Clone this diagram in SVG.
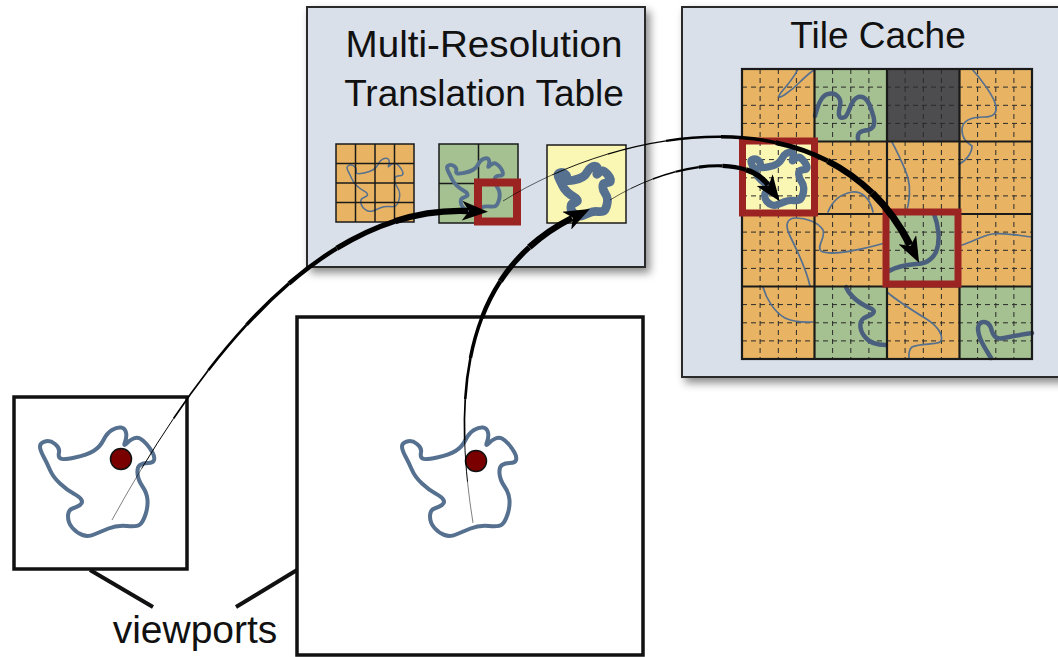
<svg xmlns="http://www.w3.org/2000/svg" xmlns:xlink="http://www.w3.org/1999/xlink" width="1058" height="657" viewBox="0 0 1058 657">
  <style>
    .panel { fill: #d9e0ea; stroke: #2b2b2b; stroke-width: 2; }
    .title { font-family: "Liberation Sans", Arial, sans-serif; font-size: 37px; fill: #111; text-anchor: middle; }
    .label { font-family: "Liberation Sans", Arial, sans-serif; font-size: 39px; fill: #111; text-anchor: middle; }
    .orange { fill: #e8b464; }
    .green { fill: #a5c091; }
    .yellow { fill: #faf6b4; }
    .dark { fill: #4d4d4f; }
    .gridline { stroke: #1a1a1a; stroke-width: 1.5; fill: none; }
    .tileline { stroke: #1a1a1a; stroke-width: 2.2; fill: none; }
    .dash { stroke: #2a2a2a; stroke-width: 1; stroke-dasharray: 5 4; fill: none; }
    .thin { stroke: #56708f; stroke-width: 1.7; fill: none; stroke-linecap: round; }
    .thick { stroke: #4a5f7d; stroke-width: 4.5; fill: none; stroke-linecap: round; stroke-linejoin: round; }
    .hl { fill: none; stroke: #9b2422; }
    .viewport { fill: #fff; stroke: #111; stroke-width: 3.5; }
    .leader { stroke: #111; stroke-width: 4; }
    .dot { fill: #7a0000; stroke: #111; stroke-width: 1.5; }
    .blobline { fill: none; stroke: #56708f; stroke-linejoin: round; }
    .conn { fill: none; stroke: #000; stroke-linecap: butt; }
  </style>
  <defs>
    <filter id="shadow" x="-10%" y="-10%" width="130%" height="130%">
      <feDropShadow dx="4" dy="5" stdDeviation="4" flood-color="#000" flood-opacity="0.45"/>
    </filter>
    <marker id="head" markerUnits="userSpaceOnUse" viewBox="0 0 26 20" markerWidth="26" markerHeight="20" refX="6" refY="10" orient="auto">
      <path d="M0,0 L26,10 L0,20 L7,10 Z" fill="#000"/>
    </marker>
    <!-- outline of the region of interest, local coordinates -->
    <path id="blob" d="M0,19.5 Q0,16 5,14.5 Q10,13 15,17 Q20,21 19,25.5 Q18,30 20.5,31.5 Q23,33 35,30.5 Q47,28 53.5,24 Q60,20 63.5,13 Q67,6 72,3 Q77,0 81,0.5 Q85,1 86,5.5 Q87,10 85,15 Q83,20 86.5,16.5 Q90,13 93.5,11.5 Q97,10 100,11.5 Q103,13 106.5,17 Q110,21 112.5,25.5 Q115,30 114,33 Q113,36 108,36 Q103,36 100,38 Q97,40 97.5,46.5 Q98,53 102.5,59.5 Q107,66 107.5,73 Q108,80 105.5,87.5 Q103,95 100,97.5 Q97,100 87,99 Q77,98 68.5,101.5 Q60,105 54,107.5 Q48,110 42.5,108 Q37,106 32.5,101 Q28,96 28,89.5 Q28,83 32.5,81.5 Q37,80 40,78 Q43,76 41.5,73 Q40,70 33.5,66.5 Q27,63 20,56.5 Q13,50 10,43 Q7,36 3.5,29.5 Q0,23 0,19.5 Z"/>
    <!-- connector centre lines (tapered by layered dash segments) -->
    <path id="c1" pathLength="100" d="M112,520 C200,360 320,205 468,211"/>
    <path id="c2" pathLength="100" d="M473,523 C450,380 470,270 572,218"/>
    <path id="c3" pathLength="100" d="M503,201 C620,128 830,88 910,245"/>
    <path id="c4" pathLength="100" d="M610,200 C670,163 745,153 768,185"/>
  </defs>

  <!-- Multi-Resolution Translation Table -->
  <g id="translation-table">
    <rect class="panel" x="307" y="7" width="338" height="260" filter="url(#shadow)"/>
    <text class="title" x="484" y="57" textLength="277" lengthAdjust="spacingAndGlyphs">Multi-Resolution</text>
    <text class="title" x="484" y="106">Translation Table</text>
    <g id="level-fine">
      <rect class="orange" x="336" y="144" width="78" height="78"/>
      <use href="#blob" class="blobline" transform="translate(347,158) scale(0.49)" stroke-width="3.1"/>
      <path class="gridline" d="M355.5,144V222M375,144V222M394.5,144V222M336,163.5H414M336,183H414M336,202.5H414"/>
      <rect class="gridline" x="336" y="144" width="78" height="78"/>
    </g>
    <g id="level-mid">
      <rect class="green" x="439" y="144" width="79" height="79"/>
      <path class="gridline" d="M478.5,144V223M439,183.5H518"/>
      <use href="#blob" class="blobline" transform="translate(447,158) scale(0.49)" stroke-width="8" stroke="#4f6683"/>
      <rect class="gridline" x="439" y="144" width="79" height="79"/>
      <rect class="hl" x="478" y="182.5" width="39" height="39" stroke-width="8"/>
    </g>
    <g id="level-coarse">
      <rect class="yellow" x="547" y="145" width="79" height="78"/>
      <use href="#blob" class="blobline" transform="translate(558,166) scale(0.46)" stroke-width="19" stroke="#4a5f7d"/>
      <rect class="gridline" x="547" y="145" width="79" height="78"/>
    </g>
  </g>

  <!-- Tile Cache -->
  <g id="tile-cache">
    <rect class="panel" x="682" y="7" width="400" height="370" filter="url(#shadow)"/>
    <text class="title" x="878" y="48">Tile Cache</text>
    <g id="tiles">
      <rect class="orange" x="742" y="69" width="290" height="290"/>
      <rect class="green" x="814.5" y="69" width="72.5" height="72.5"/>
      <rect class="dark" x="887" y="69" width="72.5" height="72.5"/>
      <rect class="yellow" x="742" y="141.5" width="72.5" height="72.5"/>
      <rect class="green" x="887" y="214" width="72.5" height="72.5"/>
      <rect class="green" x="814.5" y="286.5" width="72.5" height="72.5"/>
      <rect class="green" x="959.5" y="286.5" width="72.5" height="72.5"/>
    </g>
    <path class="dash" d="M760.1,69V359M778.3,69V359M796.4,69V359M832.6,69V359M850.8,69V359M868.9,69V359M905.1,69V359M923.3,69V359M941.4,69V359M977.6,69V359M995.8,69V359M1013.9,69V359
      M742,87.1H1032M742,105.3H1032M742,123.4H1032M742,159.6H1032M742,177.8H1032M742,195.9H1032M742,232.1H1032M742,250.3H1032M742,268.4H1032M742,304.6H1032M742,322.8H1032M742,340.9H1032"/>
    <g id="tile-content">
      <path class="thin" d="M798,69 C792,82 780,92 779,96 C778,100 790,92 800,82 C806,76 811,72 814,70"/>
      <path class="thick" d="M815,116 C818,104 822,95 828,94 C836,92 842,98 840,106 C838,114 838,120 845,117 C850,113 850,100 858,97 C866,95 870,104 872,112 C875,120 876,128 868,130 C860,131 857,133 858,139"/>
      <path class="thin" d="M972,69 C980,78 994,96 996,106 C997,113 994,117 984,117 C970,117 962,121 962,130 C962,138 966,142 972,146 C972,153 966,161 959,164"/>
      <path class="thin" d="M892,142 C896,150 904,165 908,178 C911,190 910,200 906,214"/>
      <path class="thin" d="M828,212 C832,202 840,194 852,192 C862,191 870,198 873,212"/>
      <use href="#blob" class="blobline" transform="translate(751,152) scale(0.49)" stroke-width="15" stroke="#4a5f7d"/>
      <path class="thin" d="M810,286 C806,268 796,248 790,236 C785,226 786,218 796,218 C806,218 818,222 823,230 C826,238 816,246 821,251 C830,256 860,250 885,243"/>
      <path class="thin" d="M763,287 C766,298 774,312 785,318 C795,323 805,322 813,322"/>
      <path class="thick" d="M846,287 C850,296 860,304 872,309 C878,313 868,316 864,318 C858,322 860,332 866,338 C870,343 878,345 886,345"/>
      <path class="thin" d="M887,292 C896,300 915,312 928,320 C940,328 944,338 940,342 C935,345 920,343 912,347 C908,350 909,355 909,359"/>
      <path class="thin" d="M962,245 C972,242 982,236 992,234 C1005,232 1020,236 1032,237"/>
      <path class="thick" d="M991,358 C985,348 978,338 978,328 C979,320 988,320 991,328 C993,336 996,340 1004,338 C1014,336 1024,334 1032,333"/>
      <path class="thick" d="M934,214 C938,224 941,240 936,252 C932,260 926,264 916,264 C904,265 896,267 889,271"/>
    </g>
    <path class="tileline" d="M814.5,69V359M887,69V359M959.5,69V359M742,141.5H1032M742,214H1032M742,286.5H1032"/>
    <rect class="tileline" x="742" y="69" width="290" height="290"/>
    <rect class="hl" x="742.5" y="141" width="72" height="72" stroke-width="7"/>
    <rect class="hl" x="886" y="212" width="72" height="72" stroke-width="7"/>
  </g>

  <!-- small viewport -->
  <g id="viewport-small">
    <rect class="viewport" x="14" y="397" width="173" height="172"/>
    <use href="#blob" class="blobline" transform="translate(40,427)" stroke-width="4"/>
    <circle class="dot" cx="121" cy="459" r="10.5"/>
  </g>

  <!-- large viewport -->
  <g id="viewport-large">
    <rect class="viewport" x="297" y="317" width="346" height="338"/>
    <use href="#blob" class="blobline" transform="translate(402,427)" stroke-width="4"/>
    <circle class="dot" cx="476" cy="461" r="10.5"/>
  </g>

  <!-- caption -->
  <g id="caption">
    <line class="leader" x1="90" y1="570" x2="153" y2="607"/>
    <line class="leader" x1="297" y1="570" x2="236" y2="607"/>
    <text class="label" x="195" y="643">viewports</text>
  </g>

  <!-- connectors -->
  <g id="connectors">
    <g id="conn-small-to-mid">
      <use href="#c1" class="conn" stroke-width="0.5" stroke-dasharray="12 200"/>
      <use href="#c1" class="conn" stroke-width="1" stroke-dasharray="0 12 12 200"/>
      <use href="#c1" class="conn" stroke-width="1.7" stroke-dasharray="0 24 12 200"/>
      <use href="#c1" class="conn" stroke-width="2.6" stroke-dasharray="0 36 12 200"/>
      <use href="#c1" class="conn" stroke-width="3.5" stroke-dasharray="0 48 12 200"/>
      <use href="#c1" class="conn" stroke-width="4.4" stroke-dasharray="0 60 12 200"/>
      <use href="#c1" class="conn" stroke-width="5.3" stroke-dasharray="0 72 13 200"/>
      <use href="#c1" class="conn" stroke-width="6.3" stroke-dasharray="0 85 15 200" marker-end="url(#head)"/>
    </g>
    <g id="conn-large-to-coarse">
      <use href="#c2" class="conn" stroke-width="0.5" stroke-dasharray="12 200"/>
      <use href="#c2" class="conn" stroke-width="1" stroke-dasharray="0 12 12 200"/>
      <use href="#c2" class="conn" stroke-width="1.7" stroke-dasharray="0 24 12 200"/>
      <use href="#c2" class="conn" stroke-width="2.6" stroke-dasharray="0 36 12 200"/>
      <use href="#c2" class="conn" stroke-width="3.5" stroke-dasharray="0 48 12 200"/>
      <use href="#c2" class="conn" stroke-width="4.4" stroke-dasharray="0 60 12 200"/>
      <use href="#c2" class="conn" stroke-width="5.3" stroke-dasharray="0 72 13 200"/>
      <use href="#c2" class="conn" stroke-width="6.3" stroke-dasharray="0 85 15 200" marker-end="url(#head)"/>
    </g>
    <g id="conn-mid-to-cache">
      <use href="#c3" class="conn" stroke-width="0.6" stroke-dasharray="12 200"/>
      <use href="#c3" class="conn" stroke-width="0.9" stroke-dasharray="0 12 13 200"/>
      <use href="#c3" class="conn" stroke-width="1.4" stroke-dasharray="0 25 13 200"/>
      <use href="#c3" class="conn" stroke-width="2.3" stroke-dasharray="0 38 12 200"/>
      <use href="#c3" class="conn" stroke-width="3.4" stroke-dasharray="0 50 12 200"/>
      <use href="#c3" class="conn" stroke-width="4.8" stroke-dasharray="0 62 12 200"/>
      <use href="#c3" class="conn" stroke-width="6.2" stroke-dasharray="0 74 12 200"/>
      <use href="#c3" class="conn" stroke-width="7.2" stroke-dasharray="0 86 14 200" marker-end="url(#head)"/>
    </g>
    <g id="conn-coarse-to-cache">
      <use href="#c4" class="conn" stroke-width="0.6" stroke-dasharray="14 200"/>
      <use href="#c4" class="conn" stroke-width="0.9" stroke-dasharray="0 14 14 200"/>
      <use href="#c4" class="conn" stroke-width="1.4" stroke-dasharray="0 28 14 200"/>
      <use href="#c4" class="conn" stroke-width="2.1" stroke-dasharray="0 42 14 200"/>
      <use href="#c4" class="conn" stroke-width="3.1" stroke-dasharray="0 56 14 200"/>
      <use href="#c4" class="conn" stroke-width="4.2" stroke-dasharray="0 70 14 200"/>
      <use href="#c4" class="conn" stroke-width="5.3" stroke-dasharray="0 84 16 200" marker-end="url(#head)"/>
    </g>
  </g>
</svg>
